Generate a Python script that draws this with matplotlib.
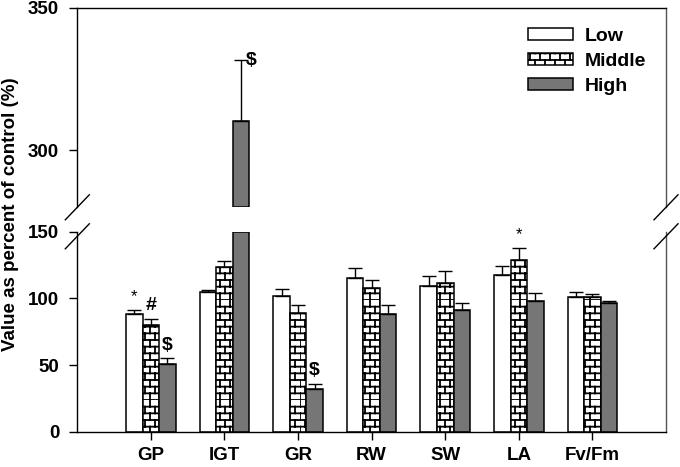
import warnings
import numpy as np
import matplotlib
matplotlib.use("Agg")
import matplotlib.pyplot as plt
import matplotlib.hatch as mhatch
from matplotlib.lines import Line2D

warnings.filterwarnings("ignore")

# ---- data ----
categories = ["GP", "IGT", "GR", "RW", "SW", "LA", "Fv/Fm"]
series = ["Low", "Middle", "High"]
low = [88.0, 105.0, 101.5, 115.3, 109.0, 117.3, 101.0]
low_err = [3.3, 1.0, 5.8, 7.5, 7.5, 6.7, 3.5]
middle = [79.8, 123.3, 89.3, 107.8, 111.8, 128.5, 100.8]
middle_err = [4.5, 5.0, 6.0, 6.3, 8.8, 9.3, 2.3]
high = [50.5, 310.4, 31.8, 88.0, 91.0, 98.0, 96.3]
high_err = [4.5, 21.2, 3.8, 7.0, 5.3, 6.0, 2.0]

# significance marks: (category, series, symbol)
marks = [("GP", "Low", "*"), ("GP", "Middle", "#"), ("GP", "High", "$"),
         ("IGT", "High", "$"), ("GR", "High", "$"), ("LA", "Middle", "*")]

lower_lim = (0, 150)
upper_lim = (280, 350)


# brick hatch for the "Middle" bars
class BrickHatch(mhatch.HatchPatternBase):
    rows = 15
    cols = 10

    def __init__(self, hatch, density):
        on = 'B' in hatch
        self.num_vertices = (self.rows + self.rows * self.cols) * 2 if on else 0

    def set_vertices_and_codes(self, vertices, codes):
        h = 1.0 / self.rows
        w = 1.0 / self.cols
        segs = []
        for r in range(self.rows):
            y0 = r * h
            segs.append(((0.0, y0), (1.0, y0)))
            off = (r % 2) * w / 2
            for c in range(self.cols):
                x = off + c * w
                segs.append(((x, y0), (x, y0 + h)))
        for i, (a, b) in enumerate(segs):
            vertices[2 * i] = a
            vertices[2 * i + 1] = b
            codes[2 * i] = mhatch.Path.MOVETO
            codes[2 * i + 1] = mhatch.Path.LINETO


mhatch._hatch_types.append(BrickHatch)

plt.rcParams["font.family"] = ["Liberation Sans", "DejaVu Sans"]
plt.rcParams["font.weight"] = "bold"
plt.rcParams["font.size"] = 14
plt.rcParams["hatch.linewidth"] = 1.3

fig = plt.figure(figsize=(6.8, 4.67), dpi=100)
L, R = 77.3 / 680, 666 / 680
ax_lo = fig.add_axes([L, 1 - 431.7 / 467, R - L, (431.7 - 231.7) / 467])
ax_hi = fig.add_axes([L, 1 - 207.3 / 467, R - L, (207.3 - 7.7) / 467])

x = np.arange(1, len(categories) + 1)
w = 0.225
offsets = [-w, 0, w]
styles = [dict(color="white"), dict(color="white", hatch="B"), dict(color="#767676")]
vals = [low, middle, high]
errs = [low_err, middle_err, high_err]

handles = []
for k in range(3):
    v = np.array(vals[k])
    e = np.array(errs[k])
    xs = x + offsets[k]
    # lower panel, bars cut at the break
    b = ax_lo.bar(xs, np.minimum(v, lower_lim[1]), w, edgecolor="black", linewidth=1.1,
                  label=series[k], **styles[k])
    handles.append(b)
    # upper panel, only bars that reach it
    big = v > upper_lim[0]
    ax_hi.bar(xs[big], v[big] - upper_lim[0], w, bottom=upper_lim[0],
              edgecolor="black", linewidth=1.1, **styles[k])
    for ax in (ax_lo, ax_hi):
        ax.errorbar(xs, v, yerr=[np.zeros_like(e), e], fmt="none", ecolor="black",
                    elinewidth=1.0, capsize=5, capthick=1.0, zorder=1)

# significance symbols
for cat, ser, sym in marks:
    i = categories.index(cat)
    k = series.index(ser)
    v = vals[k][i]
    top = v + errs[k][i]
    xx = x[i] + offsets[k]
    if v > upper_lim[0]:
        ax_hi.text(xx + 0.07, top, sym, ha="left", va="center", fontsize=14)
    elif sym == "*":
        ax_lo.text(xx, top + 10, sym, ha="center", va="center", fontsize=12,
                   fontweight="normal", clip_on=False)
    else:
        ax_lo.text(xx, top + 10, sym, ha="center", va="center", fontsize=14)

for ax in (ax_lo, ax_hi):
    ax.set_xlim(0, 8)
    ax.tick_params(axis="y", direction="out", length=6, width=1, pad=7, labelsize=13.5)
    for s in ax.spines.values():
        s.set_linewidth(1.0)

ax_lo.set_ylim(*lower_lim)
ax_lo.set_yticks([0, 50, 100, 150])
ax_lo.set_xticks(x)
ax_lo.set_xticklabels(categories)
ax_lo.tick_params(axis="x", direction="out", length=6, width=1, pad=5, labelsize=13.5)
ax_lo.spines["top"].set_visible(False)

ax_hi.set_ylim(*upper_lim)
ax_hi.set_yticks([300, 350])
ax_hi.set_xticks([])
ax_hi.spines["bottom"].set_visible(False)
ax_hi.spines["right"].set_color("#555555")
ax_lo.spines["right"].set_color("#555555")

# break marks on both side spines
for px in (77.3, 666):
    for py in (207.3, 236.3):
        fig.add_artist(Line2D([(px - 12) / 680, (px + 12) / 680],
                              [1 - (py + 12.5) / 467, 1 - (py - 12.5) / 467],
                              transform=fig.transFigure, color="black", lw=1.0))

fig.text(0.016, 0.542, "Value as percent of control (%)", rotation=90,
         ha="center", va="center", fontsize=13.5)

ax_hi.legend(handles, series, loc="upper left", bbox_to_anchor=(524 / 680, 1 - 24 / 467),
             bbox_transform=fig.transFigure, frameon=False, fontsize=14,
             handlelength=2.3, handleheight=0.6, handletextpad=0.6,
             labelspacing=0.4, borderpad=0.2, borderaxespad=0)

fig.savefig("out.png", dpi=100)
